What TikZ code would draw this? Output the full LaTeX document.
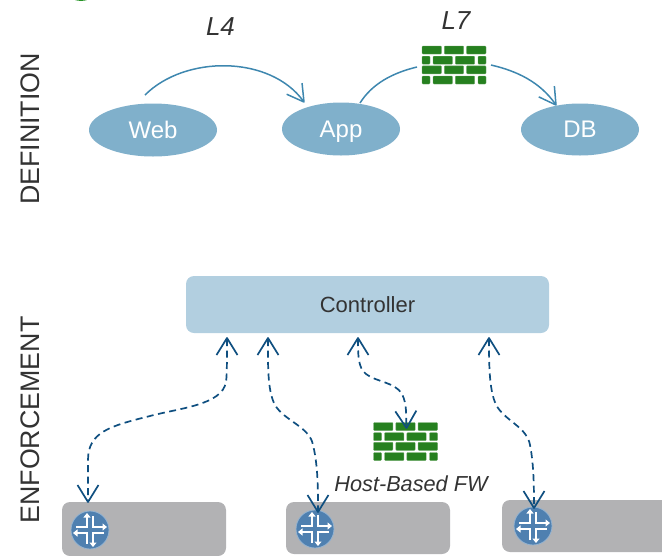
\documentclass[tikz,border=0pt]{standalone}
\usepackage{fontspec}
\setmainfont{Liberation Sans}
\usetikzlibrary{arrows.meta,shapes.geometric}
\definecolor{ovalblue}{HTML}{80B0CB}
\definecolor{ctrlblue}{HTML}{B2CFE0}
\definecolor{arcblue}{HTML}{3E87AF}
\definecolor{dashblue}{HTML}{0F4F80}
\definecolor{routerblue}{HTML}{4F80B0}
\definecolor{boxgray}{HTML}{B2B2B4}
\definecolor{fwgreen}{HTML}{26801F}
\definecolor{labelgray}{HTML}{333333}
\pgfdeclarearrow{
  name=VTipA,
  setup code={
    \pgfarrowssettipend{0pt}\pgfarrowssetlineend{-1pt}
    \pgfarrowssetvisualbackend{-16.5pt}\pgfarrowssetbackend{-16.5pt}
    \pgfarrowshullpoint{0pt}{0pt}\pgfarrowshullpoint{-16.5pt}{9.5pt}\pgfarrowshullpoint{-16.5pt}{-9.5pt}
  },
  drawing code={
    \pgfsetdash{}{0pt}\pgfsetroundjoin
    \pgfpathmoveto{\pgfqpoint{-16.5pt}{9.5pt}}
    \pgfpathlineto{\pgfqpoint{0pt}{0pt}}
    \pgfpathlineto{\pgfqpoint{-16.5pt}{-9.5pt}}
    \pgfusepathqstroke
  },
  parameters={\the\pgfarrowlinewidth}
}
\pgfdeclarearrow{
  name=VTipB,
  setup code={
    \pgfarrowssettipend{0pt}\pgfarrowssetlineend{-1pt}
    \pgfarrowssetvisualbackend{-17pt}\pgfarrowssetbackend{-17pt}
    \pgfarrowshullpoint{0pt}{0pt}\pgfarrowshullpoint{-17pt}{10.5pt}\pgfarrowshullpoint{-17pt}{-10.5pt}
  },
  drawing code={
    \pgfsetdash{}{0pt}\pgfsetroundjoin
    \pgfpathmoveto{\pgfqpoint{-17pt}{10.5pt}}
    \pgfpathlineto{\pgfqpoint{0pt}{0pt}}
    \pgfpathlineto{\pgfqpoint{-17pt}{-10.5pt}}
    \pgfusepathqstroke
  },
  parameters={\the\pgfarrowlinewidth}
}
\tikzset{
  oval/.style={ellipse,fill=ovalblue,inner sep=0pt,text=white,text height=16.5pt,text depth=0pt,font=\fontsize{24}{24}\selectfont},
  sidelabel/.style={rotate=90,text=labelgray,font=\fontsize{26.8}{26.8}\selectfont,inner sep=0pt},
  layerlabel/.style={text=labelgray,font=\fontsize{26}{26}\selectfont\itshape,inner sep=0pt},
  hostbox/.style={fill=boxgray,rounded corners=8pt},
  fwbox/.style={minimum width=64pt,minimum height=39pt,inner sep=0pt},
  routernode/.style={circle,fill=routerblue,draw=routerblue!60!white,line width=0.8pt,inner sep=0pt,minimum size=38pt},
  arcline/.style={draw=arcblue,line width=1.5pt,-{VTipA[sep=0pt]}},
  arcplain/.style={draw=arcblue,line width=1.5pt},
  dashline/.style={draw=dashblue,line width=1.7pt,dash pattern=on 7pt off 4.5pt,{VTipB}-{VTipB}},
  brickcell/.style={fill=fwgreen,draw=fwgreen!70!white,line width=0.4pt,rounded corners=0.8pt},
  brick/.pic={
    \foreach \y in {-19.5,0.3}{
      \foreach \x in {-32,-9.7,12.6}
        \path[brickcell] (\x,\y) rectangle ++(19.4,8);
      \path[brickcell] (-32,\y+10.2) rectangle ++(8,8);
      \foreach \x in {-21,1.3}
        \path[brickcell] (\x,\y+10.2) rectangle ++(19.4,8);
      \path[brickcell] (24,\y+10.2) rectangle ++(8,8);
    }
  },
  crossarrows/.pic={
    \begin{scope}[white,line width=2.3pt,>={Triangle[length=4.5pt,width=7pt]}]
      \draw[->] (-14,-3) -- (-3,-3) -- (-3,-17);
      \draw[->] (3,-14) -- (3,-3) -- (17,-3);
      \draw[->] (14,3) -- (3,3) -- (3,17);
      \draw[->] (-3,14) -- (-3,3) -- (-17,3);
    \end{scope}
  }
}
\begin{document}
\begin{tikzpicture}[x=1pt,y=-1pt]
\useasboundingbox (0,0) rectangle (662,555);
\begin{scope}
  \clip (0,0) rectangle (662,555);
  \fill[green!50!black!85!white] (81,-30) ellipse (24 and 31);
  \node[hostbox,minimum width=164pt,minimum height=54pt,inner sep=0pt] (host1) at (144,529) {};
  \node[hostbox,minimum width=164pt,minimum height=52pt,inner sep=0pt] (host2) at (368,528) {};
  \node[hostbox,minimum width=180pt,minimum height=52pt,inner sep=0pt] (host3) at (592,526) {};
\end{scope}

\node[sidelabel] (deflabel) at (30,129) {DEFINITION};
\node[sidelabel] (enflabel) at (30,420) {ENFORCEMENT};

\node[oval,minimum width=128pt,minimum height=53pt] (web) at (153,130) {Web};
\node[oval,minimum width=118pt,minimum height=53pt] (app) at (341,129) {App};
\node[oval,minimum width=118pt,minimum height=52pt] (db) at (580,129.5) {DB};

\node[layerlabel] (l4) at (220.5,27) {L4};
\node[layerlabel] (l7) at (456,21) {L7};

\node[fwbox] (fwtop) at (454,65.5) {};
\pic at (fwtop.center) {brick};
\node[fwbox] (fwhost) at (405.5,442) {};
\pic at (fwhost.center) {brick};

\node[fill=ctrlblue,rounded corners=8pt,minimum width=363pt,minimum height=57pt,inner sep=0pt,
  text=labelgray,font=\fontsize{22}{22}\selectfont] (ctrl) at (367.5,304.5) {Controller};

\node[text=labelgray,inner sep=0pt,font=\fontsize{21.7}{21.7}\selectfont\itshape] (hostfw) at (411,484) {Host-Based FW};

\node[routernode] (r1) at (90,530) {};
\pic at (r1.center) {crossarrows};
\node[routernode] (r2) at (315,529) {};
\pic at (r2.center) {crossarrows};
\node[routernode] (r3) at (533,526) {};
\pic at (r3.center) {crossarrows};

\coordinate (webout) at (145,95);
\coordinate (appin) at (304,102);
\coordinate (appout) at (360,103);
\coordinate (fwin) at (417,67);
\coordinate (fwout) at (491,65);
\coordinate (dbin) at (556,105);

\draw[arcline] (webout) .. controls (185,55) and (270,55) .. (appin);
\draw[arcplain] (appout) .. controls (372,84) and (392,73) .. (fwin);
\draw[arcline] (fwout) .. controls (517,71) and (540,82) .. (dbin);

\coordinate (c1) at (227,338);
\coordinate (c2) at (268,338);
\coordinate (c3) at (358,338);
\coordinate (c4) at (489,338);
\coordinate (h1) at (88,502);
\coordinate (h2) at (318,512);
\coordinate (h3) at (534,508);
\coordinate (fwtip) at (406.5,428);

\draw[dashline] (c1) .. controls (227,360) and (227,375) .. (226,382)
  .. controls (222,405) and (180,408) .. (150,416)
  .. controls (110,426) and (88,432) .. (88,460) -- (h1);
\draw[dashline] (c2) .. controls (268,365) and (267,395) .. (277,408)
  .. controls (288,422) and (310,428) .. (313,445)
  .. controls (318,465) and (318,490) .. (h2);
\draw[dashline] (c3) .. controls (358,355) and (358,368) .. (366,374)
  .. controls (376,382) and (395,382) .. (402,394)
  .. controls (407,404) and (406,415) .. (fwtip);
\draw[dashline] (c4) .. controls (489,365) and (489,395) .. (498,408)
  .. controls (508,422) and (527,428) .. (530,445)
  .. controls (534,465) and (534,490) .. (h3);
\end{tikzpicture}
\end{document}
